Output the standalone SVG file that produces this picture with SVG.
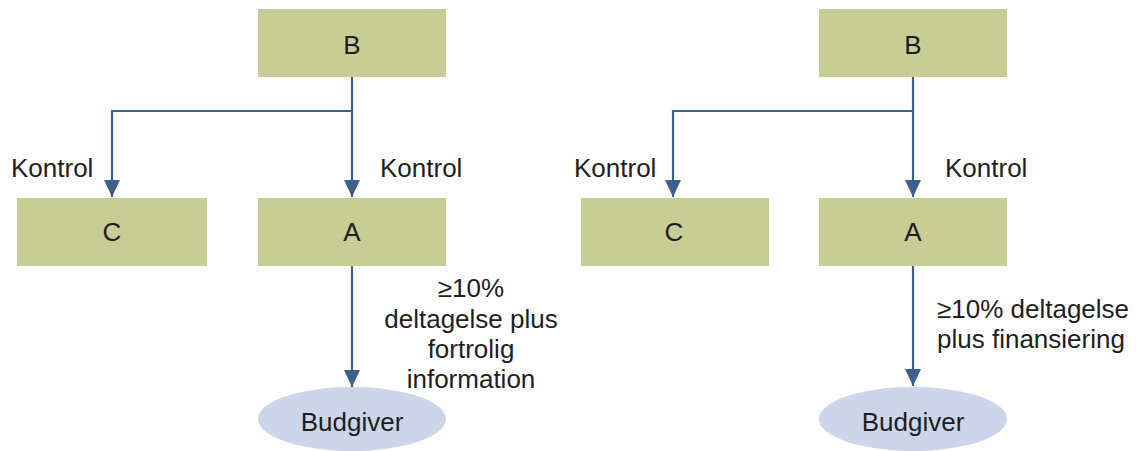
<svg xmlns="http://www.w3.org/2000/svg" width="1136" height="451" viewBox="0 0 1136 451">
<style>
.box{fill:#c8cc95}
.ell{fill:#cdd5ea}
.t{font-family:"Liberation Sans",Arial,sans-serif;font-size:26px;fill:#1e1e1e}
.m{text-anchor:middle}
.c{fill:none;stroke:#3e5f8c;stroke-width:2.2}
</style>
<defs>
<marker id="ah" markerWidth="17" markerHeight="16" refX="17" refY="8" orient="auto" markerUnits="userSpaceOnUse" viewBox="0 0 17 16">
<path d="M0,0 L17,8 L0,16 Z" fill="#3e5f8c"/>
</marker>
</defs>
<rect width="1136" height="451" fill="#ffffff"/>
<g id="connectors">
<path class="c" d="M352,77 V111 H112 V197" marker-end="url(#ah)"/>
<path class="c" d="M352,111 V197" marker-end="url(#ah)"/>
<path class="c" d="M352,266 V387" marker-end="url(#ah)"/>
<path class="c" d="M913,77 V111 H673 V197" marker-end="url(#ah)"/>
<path class="c" d="M913,111 V197" marker-end="url(#ah)"/>
<path class="c" d="M913,266 V386" marker-end="url(#ah)"/>
</g>
<g id="labels">
<text class="t" x="11" y="177">Kontrol</text>
<text class="t" x="380" y="177">Kontrol</text>
<text class="t m" x="471" y="297">≥10%</text>
<text class="t m" x="471" y="328">deltagelse plus</text>
<text class="t m" x="471" y="358">fortrolig</text>
<text class="t m" x="471" y="388">information</text>
<text class="t" x="574" y="177">Kontrol</text>
<text class="t" x="945" y="177">Kontrol</text>
<text class="t" x="937" y="318">≥10% deltagelse</text>
<text class="t" x="937" y="348">plus finansiering</text>
</g>
<g id="L_B"><rect class="box" x="258" y="9" width="188" height="68"/><text class="t m" x="352" y="54">B</text></g>
<g id="L_C"><rect class="box" x="17" y="198" width="190" height="68"/><text class="t m" x="112" y="241">C</text></g>
<g id="L_A"><rect class="box" x="258" y="198" width="188" height="68"/><text class="t m" x="352" y="241">A</text></g>
<g id="L_Budgiver"><ellipse class="ell" cx="352" cy="419" rx="94" ry="32"/><text class="t m" x="352" y="431">Budgiver</text></g>
<g id="R_B"><rect class="box" x="819" y="9" width="188" height="68"/><text class="t m" x="913" y="54">B</text></g>
<g id="R_C"><rect class="box" x="581" y="198" width="188" height="68"/><text class="t m" x="674" y="241">C</text></g>
<g id="R_A"><rect class="box" x="819" y="198" width="188" height="68"/><text class="t m" x="913" y="241">A</text></g>
<g id="R_Budgiver"><ellipse class="ell" cx="913" cy="419" rx="94" ry="32"/><text class="t m" x="913" y="431">Budgiver</text></g>
</svg>
